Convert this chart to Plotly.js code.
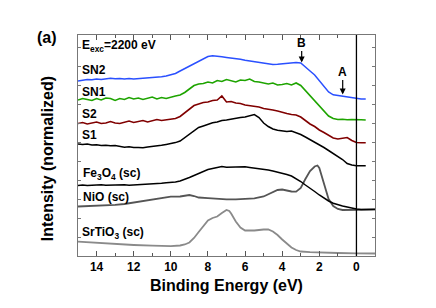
<!DOCTYPE html>
<html>
<head>
<meta charset="utf-8">
<script src="https://cdn.plot.ly/plotly-3.0.1.min.js"></script>
<style>html,body{margin:0;padding:0;background:#fff;}#chart{width:436px;height:308px;}</style>
</head>
<body>
<div id="chart"></div>
<script>
// Binding energy grid (eV) for the measured hard-x-ray spectra
const eTop = [15,14.75,14.5,14.25,14,13.75,13.5,13.25,13,12.75,12.5,12.25,12,11.75,11.5,11.25,11,10.75,10.5,10.25,10,9.75,9.5,9.25,9,8.75,8.5,8.25,8,7.75,7.5,7.25,7,6.75,6.5,6.25,6,5.75,5.5,5.25,5,4.75,4.5,4.25,4,3.75,3.5,3.25,3,2.75,2.5,2.25,2,1.75,1.5,1.25,1,0.75,0.5,0.25,0,-0.25,-0.5];
const eFe = [15,14.75,14.5,14.25,14,13.75,13.5,13.25,13,12.75,12.5,12.25,12,11.75,11.5,11.25,11,10.75,10.5,10.25,10,9.75,9.5,9.25,9,8.75,8.5,8.25,8,7.75,7.5,7.25,7,6.75,6.5,6.25,6,5.75,5.5,5.25,5,4.75,4.5,4.25,4,3.75,3.5,3.25,3,2.75,2.5,2.25,2,1.75,1.5,1.25,1,0.75,0.5,0.25,0,-0.25,-0.5,-0.75,-1];

// Intensities (normalized, vertically offset)
const sn2 = [175,176,176.5,176.2,177,176.5,177.5,177.8,177.2,177.6,177,177.6,177,177.4,177.2,178,178.4,179,179.2,180,181,182.5,185,187.5,190,192.5,195,197.5,199.5,200.2,199.4,199.2,198.6,198.2,197.4,196.8,195.8,195.2,194.6,193.8,192.8,192.2,191.6,191.8,192.4,193,193.4,193.6,193,189.4,185,181,175.5,169.5,164,161.2,160.4,160.2,159.2,158.4,157.2,157,157];
const sn1 = [156,157.5,156.5,155.5,157.5,156,158,157.5,155.5,157.5,156.5,158.5,157,158,156.5,157.5,159,157,158.5,157.5,159,160,161,163.5,167,170.5,172,172.5,174,173,175.5,174.5,176.5,175,174,176,175.5,177,174.5,174,173,172,173,171,171.5,172.5,171,173,170.5,165.5,160,155.5,150,144.5,140,137.5,136.5,136.8,136.2,136.5,136,136.2,136];
const s2 = [132.5,133.5,132,133,134,132.5,133,134.5,133,132.5,134,135,133.5,134.5,135.5,134,135,136.5,135.5,136,137,137.5,139.5,143,147,150.5,152,153.5,154,155.5,156,160,154,154.5,153,152.5,151,150.5,149.5,149,147.5,147,146,145,143.5,142.5,141.5,141,139,135.5,132,129.5,126,123.5,120.5,118,117,118,118.5,115.5,113.5,113.3,113.3];
const s1 = [112,111.5,112,111,111.2,110.5,110.8,110.2,110.4,109.5,108.8,109.2,108.4,108.6,108.2,109,109.4,110.2,110.8,111.6,112.2,113.4,115,118.5,122,125.5,128.5,130,132,133.2,134,135.5,136,137,137.5,138.5,139,140,141.5,138.5,133,129.5,127,125.8,125,124.6,125,123.5,121.5,119,116.5,114,111.5,108.5,105.5,102.5,100.3,96.5,92.5,91,90.3,90.5,90.3];
const fe3o4 = [70.5,71,70.4,70.8,70.6,71.2,70.8,71,70.6,71,71.2,70.8,71,71.4,71.8,72.2,72.2,72.6,72.8,73.2,73.4,74,75,76.5,78.5,80.5,82.5,84.5,86.5,87.5,88.2,89.5,88.8,89,89.2,89,89.2,88.6,88,87.6,87,86,85,84,83,81.5,80,77.5,74.5,71,68,64.5,61,57.8,55,52.8,51,50,49,47.8,47,46.6,46.8,46.6,46.8];

const eNiO = [15,14.5,14,13.5,13,12.5,12,11.5,11,10.5,10,9.5,9.25,9,8.75,8.5,8,7.5,7,6.5,6,5.5,5,4.75,4.5,4.25,4,3.75,3.5,3.25,3,2.75,2.5,2.25,2.1,2,1.75,1.5,1.25,1,0.75,0.5,0,-0.5,-1];
const nio = [49.5,49.8,50,50.5,51.2,52,53.5,55,56.5,58,59.3,59.5,60,61,60,58.5,57.8,57,56.7,56.7,57,57.7,59.5,61.5,64,66,66.5,65.5,64.5,64.3,68,77,85,89.5,90.5,88,73,57,50,47,46,46,46,46.2,46.3];

const eSTO = [15,14,13,12,11,10.5,10,9.5,9.25,9,8.75,8.5,8.25,8,7.75,7.5,7.25,7,6.85,6.75,6.5,6.25,6,5.5,5,4.75,4.5,4.25,4,3.75,3.5,3.25,3,2.5,2,1,0,-1];
const sto = [14.3,13,12,11,10.3,10,9.8,10.5,11.5,13.5,18,24,30,35.5,38,39.5,43,46,45,42.5,34.5,28.5,25.5,25.5,26.5,26.5,24.5,21,16.5,12,8.5,6,4.5,3.8,3.3,3,2.7,2.5];

// Tick labels and sample labels
const xTicks = [14,12,10,8,6,4,2,0];
const labelTexts = ['E<sub>exc</sub>=2200 eV','SN2','SN1','S2','S1','Fe<sub>3</sub>O<sub>4</sub> (sc)','NiO (sc)','SrTiO<sub>3</sub> (sc)'];

const FONT = 'Liberation Sans, Arial, sans-serif';
function ln(x, y, color, w, name){
  return {x:x, y:y, type:'scatter', mode:'lines', name:name, line:{color:color, width:w}, hoverinfo:'skip'};
}
const data = [
  ln(eSTO, sto, '#8a8a8a', 1.8, 'SrTiO3 (sc)'),
  ln(eNiO, nio, '#555555', 1.8, 'NiO (sc)'),
  ln(eFe, fe3o4, '#000000', 1.5, 'Fe3O4 (sc)'),
  ln(eTop, s1, '#000000', 1.5, 'S1'),
  ln(eTop, s2, '#800000', 1.6, 'S2'),
  ln(eTop, sn1, '#1ea400', 1.6, 'SN1'),
  ln(eTop, sn2, '#2a50ff', 1.5, 'SN2')
];

const labX = [14.9,14.9,14.9,14.9,14.9,14.82,14.82,14.88];
const labY = [210,186.5,164.5,142.5,121,82,59.5,23.5];
const annotations = labelTexts.map(function(t, i){
  return {text:'<b>' + t + '</b>', x:labX[i], y:labY[i], xref:'x', yref:'y', xanchor:'left', yanchor:'middle', showarrow:false,
          font:{family:FONT, size:12, color:'#000'}};
}).concat([
  {text:'<b>B</b>', x:2.95, y:193.5, xref:'x', yref:'y', showarrow:true, ax:0, ay:-20, arrowhead:2, arrowsize:1, arrowwidth:1.2, arrowcolor:'#000', standoff:0,
   font:{family:FONT, size:12, color:'#000'}},
  {text:'<b>A</b>', x:0.74, y:161.5, xref:'x', yref:'y', showarrow:true, ax:0, ay:-23, arrowhead:2, arrowsize:1, arrowwidth:1.2, arrowcolor:'#000', standoff:0,
   font:{family:FONT, size:12, color:'#000'}},
  {text:'<b>(a)</b>', x:-0.104, y:0.99, xref:'paper', yref:'paper', showarrow:false, xanchor:'center', yanchor:'middle',
   font:{family:FONT, size:16, color:'#000'}},
  {text:'<b>Intensity (normalized)</b>', x:-0.1027, y:0.44, xref:'paper', yref:'paper', showarrow:false, textangle:-90,
   xanchor:'center', yanchor:'middle', font:{family:FONT, size:16, color:'#000'}}
]);

const layout = {
  width:436, height:308,
  margin:{l:78, r:61, t:35, b:52, pad:0},
  paper_bgcolor:'#fff', plot_bgcolor:'#fff',
  showlegend:false,
  font:{family:FONT, color:'#000'},
  xaxis:{
    range:[15,-1], tickmode:'array', tickvals:xTicks, ticktext:xTicks.map(function(v){return '<b>' + v + '</b>';}),
    ticks:'inside', ticklen:5, tickwidth:1, tickcolor:'#555',
    minor:{dtick:1, ticks:'inside', ticklen:3, tickcolor:'#555'},
    showline:true, linecolor:'#777', linewidth:1, mirror:'ticks',
    showgrid:false, zeroline:false,
    tickfont:{family:FONT, size:12, color:'#000'},
    title:{text:'<b>Binding Energy (eV)</b>', font:{family:FONT, size:16, color:'#000'}, standoff:6}
  },
  yaxis:{
    range:[0,221], dtick:19, ticks:'inside', ticklen:3, tickcolor:'#777',
    showticklabels:false, showline:true, linecolor:'#777', linewidth:1, mirror:'ticks',
    showgrid:false, zeroline:false
  },
  shapes:[{type:'line', xref:'x', yref:'paper', x0:0, x1:0, y0:0, y1:1, line:{color:'#000', width:1.3}}],
  annotations:annotations
};

Plotly.newPlot('chart', data, layout, {staticPlot:true, displayModeBar:false});
</script>
</body>
</html>
